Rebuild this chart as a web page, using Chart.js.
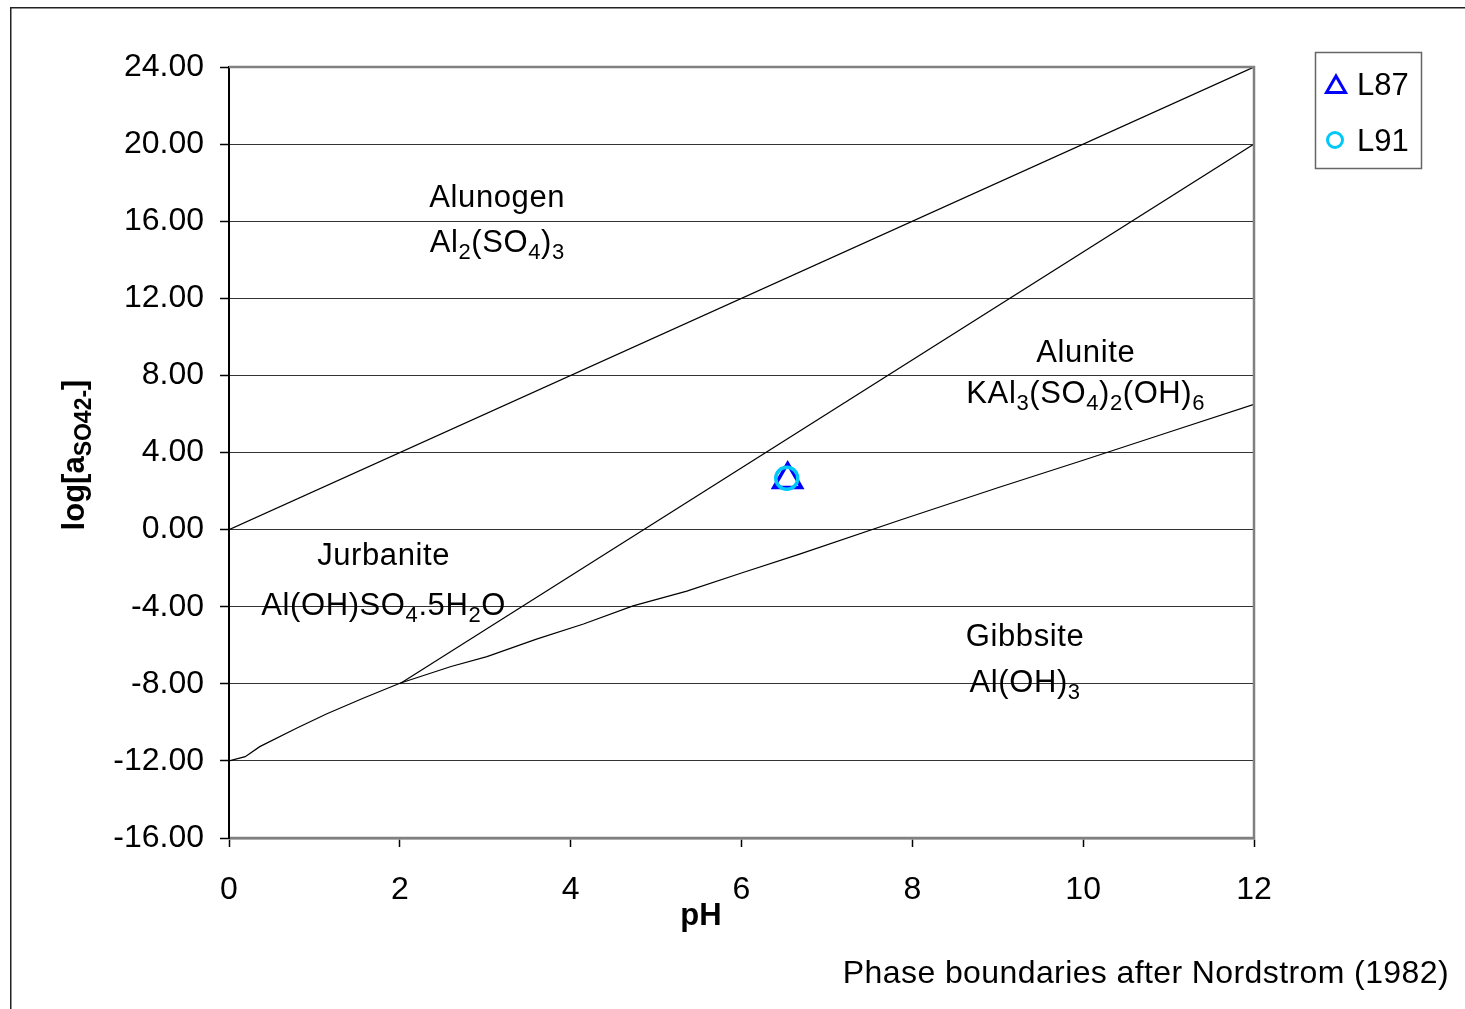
<!DOCTYPE html>
<html>
<head>
<meta charset="utf-8">
<script src="https://cdn.jsdelivr.net/npm/chart.js@4.4.1/dist/chart.umd.min.js"></script>
<style>
  body { margin: 0; background: #fff; }
  #wrap { position: relative; width: 1465px; height: 1009px; }
</style>
</head>
<body>
<div id="wrap"><canvas id="phaseChart"></canvas></div>
<script>
// phase boundaries (pH vs log a SO4)
const alunogenX = [0, 12];
const alunogenY = [0, 24];
const aluniteX = [2, 12];
const aluniteY = [-8, 20];
const gibbsiteX = [0, 0.19, 0.36, 0.79, 1.14, 1.57, 2.0, 2.6, 3.02, 3.6, 4.15, 4.73, 5.36, 6.0, 6.68, 7.86, 9.0, 10.0, 11.0, 12.0];
const gibbsiteY = [-12, -11.78, -11.26, -10.31, -9.57, -8.75, -7.97, -7.1, -6.59, -5.68, -4.9, -3.96, -3.19, -2.25, -1.27, 0.5, 2.17, 3.6, 5.05, 6.5];

// samples
const sampleNames = ['L87', 'L91'];
const sampleX = [6.54, 6.53];
const sampleY = [2.60, 2.66];

const yTickValues = [-16, -12, -8, -4, 0, 4, 8, 12, 16, 20, 24];
const xTickValues = [0, 2, 4, 6, 8, 10, 12];

// region labels: [text, subscript?] pieces
const regionLines = [
  { x: 3.14, y: 16.74, parts: [['Alunogen', 0]] },
  { x: 3.14, y: 14.40, parts: [['Al', 0], ['2', 1], ['(SO', 0], ['4', 1], [')', 0], ['3', 1]] },
  { x: 1.81, y: -1.84, parts: [['Jurbanite', 0]] },
  { x: 1.81, y: -4.43, parts: [['Al(OH)SO', 0], ['4', 1], ['.5H', 0], ['2', 1], ['O', 0]] },
  { x: 10.03, y: 8.70, parts: [['Alunite', 0]] },
  { x: 10.03, y: 6.57, parts: [['KAl', 0], ['3', 1], ['(SO', 0], ['4', 1], [')', 0], ['2', 1], ['(OH)', 0], ['6', 1]] },
  { x: 9.32, y: -6.04, parts: [['Gibbsite', 0]] },
  { x: 9.32, y: -8.43, parts: [['Al(OH)', 0], ['3', 1]] }
];

const FONT = '"Liberation Sans", Arial, sans-serif';

const toPts = (xs, ys) => xs.map((x, i) => ({ x: x, y: ys[i] }));

function richText(ctx, parts, x, y, size, subSize, bold, align, spacing) {
  const w = bold ? 'bold ' : '';
  ctx.letterSpacing = (spacing || 0) + 'px';
  let total = 0;
  parts.forEach(p => {
    ctx.font = w + (p[1] ? subSize : size) + 'px ' + FONT;
    total += ctx.measureText(p[0]).width;
  });
  let cx = align === 'center' ? x - total / 2 : x;
  ctx.textAlign = 'left';
  ctx.textBaseline = 'alphabetic';
  parts.forEach(p => {
    ctx.font = w + (p[1] ? subSize : size) + 'px ' + FONT;
    ctx.fillText(p[0], cx, y + (p[1] ? 7 : 0));
    cx += ctx.measureText(p[0]).width;
  });
  ctx.letterSpacing = '0px';
}

const extras = {
  id: 'extras',
  afterDraw(chart) {
    const ctx = chart.ctx;
    const a = chart.chartArea;
    const xs = chart.scales.x, ys = chart.scales.y;
    ctx.save();

    // outer frame
    ctx.strokeStyle = '#222';
    ctx.lineWidth = 1.5;
    ctx.beginPath();
    ctx.moveTo(10.75, 1009);
    ctx.lineTo(10.75, 7.75);
    ctx.lineTo(1465, 7.75);
    ctx.stroke();

    // plot border (top, right, bottom)
    ctx.strokeStyle = '#808080';
    ctx.lineWidth = 2.5;
    ctx.beginPath();
    ctx.moveTo(a.left, a.top);
    ctx.lineTo(a.right, a.top);
    ctx.lineTo(a.right, a.bottom);
    ctx.lineTo(a.left + 1, a.bottom);
    ctx.stroke();

    // region labels
    ctx.fillStyle = '#000';
    regionLines.forEach(r => {
      richText(ctx, r.parts, xs.getPixelForValue(r.x), ys.getPixelForValue(r.y), 31, 22, false, 'center', 0.6);
    });

    // axis titles
    richText(ctx, [['pH', 0]], 701, 925, 31, 22, true, 'center', 0);
    ctx.save();
    ctx.translate(84, 455);
    ctx.rotate(-Math.PI / 2);
    richText(ctx, [['log[a', 0], ['SO42-', 1], [']', 0]], 0, 0, 31, 23, true, 'center', 0);
    ctx.restore();

    // footnote
    ctx.font = '32px ' + FONT;
    ctx.letterSpacing = '0.4px';
    ctx.textAlign = 'right';
    ctx.textBaseline = 'alphabetic';
    ctx.fillText('Phase boundaries after Nordstrom (1982)', 1449, 983);
    ctx.letterSpacing = '0px';

    // legend
    ctx.strokeStyle = '#666';
    ctx.lineWidth = 1.5;
    ctx.strokeRect(1315.5, 52.5, 106, 116);
    const legendRows = [84, 140];
    sampleNames.forEach((name, i) => {
      const ds = chart.data.datasets.find(d => d.label === name);
      ctx.strokeStyle = ds.borderColor;
      ctx.lineWidth = 3;
      ctx.beginPath();
      if (ds.pointStyle === 'triangle') {
        const r = 11, cx = 1336, cy = legendRows[i] + 3;
        ctx.moveTo(cx, cy - r);
        ctx.lineTo(cx + r * 0.866, cy + r / 2);
        ctx.lineTo(cx - r * 0.866, cy + r / 2);
        ctx.closePath();
      } else {
        ctx.arc(1335, legendRows[i], 7.5, 0, Math.PI * 2);
      }
      ctx.stroke();
      ctx.fillStyle = '#000';
      ctx.font = '31px ' + FONT;
      ctx.textAlign = 'left';
      ctx.textBaseline = 'alphabetic';
      ctx.fillText(name, 1357, legendRows[i] + 11);
    });

    ctx.restore();
  }
};

const boundary = (label, pts) => ({
  label: label,
  data: pts,
  showLine: true,
  borderColor: '#000',
  borderWidth: 1.2,
  pointRadius: 0,
  pointHoverRadius: 0,
  tension: 0,
  fill: false
});

new Chart(document.getElementById('phaseChart'), {
  type: 'scatter',
  data: {
    datasets: [
      {
        label: sampleNames[1],
        data: [{ x: sampleX[1], y: sampleY[1] }],
        pointStyle: 'circle',
        pointRadius: 11,
        borderColor: '#00C8F8',
        backgroundColor: 'rgba(0,0,0,0)',
        pointBorderWidth: 3.5
      },
      {
        label: sampleNames[0],
        data: [{ x: sampleX[0], y: sampleY[0] }],
        pointStyle: 'triangle',
        pointRadius: 16,
        borderColor: '#0000FF',
        backgroundColor: 'rgba(0,0,0,0)',
        pointBorderWidth: 3.5
      },
      boundary('Alunogen', toPts(alunogenX, alunogenY)),
      boundary('Alunite', toPts(aluniteX, aluniteY)),
      boundary('Gibbsite', toPts(gibbsiteX, gibbsiteY))
    ]
  },
  plugins: [extras],
  options: {
    responsive: true,
    maintainAspectRatio: false,
    animation: false,
    layout: { padding: { left: 0, top: 67, right: 211, bottom: 0 } },
    plugins: {
      legend: { display: false },
      tooltip: { enabled: false }
    },
    scales: {
      x: {
        type: 'linear',
        min: 0,
        max: 12,
        afterFit: s => { s.height = 171; },
        afterBuildTicks: s => { s.ticks = xTickValues.map(v => ({ value: v })); },
        ticks: {
          color: '#000',
          font: { family: FONT, size: 32 },
          padding: 24,
          maxRotation: 0
        },
        grid: { drawOnChartArea: false, drawTicks: true, tickLength: 9, tickColor: '#000', tickWidth: 1.5 },
        border: { display: true, color: '#808080', width: 2.5 }
      },
      y: {
        type: 'linear',
        min: -16,
        max: 24,
        afterFit: s => { s.width = 229; },
        afterBuildTicks: s => { s.ticks = yTickValues.map(v => ({ value: v })); },
        ticks: {
          color: '#000',
          font: { family: FONT, size: 32 },
          padding: 16,
          callback: v => v.toFixed(2)
        },
        grid: { color: '#333', lineWidth: 1, drawTicks: true, tickLength: 9, tickColor: '#000', tickWidth: 1.5 },
        border: { display: true, color: '#000', width: 2 }
      }
    }
  }
});
</script>
</body>
</html>
